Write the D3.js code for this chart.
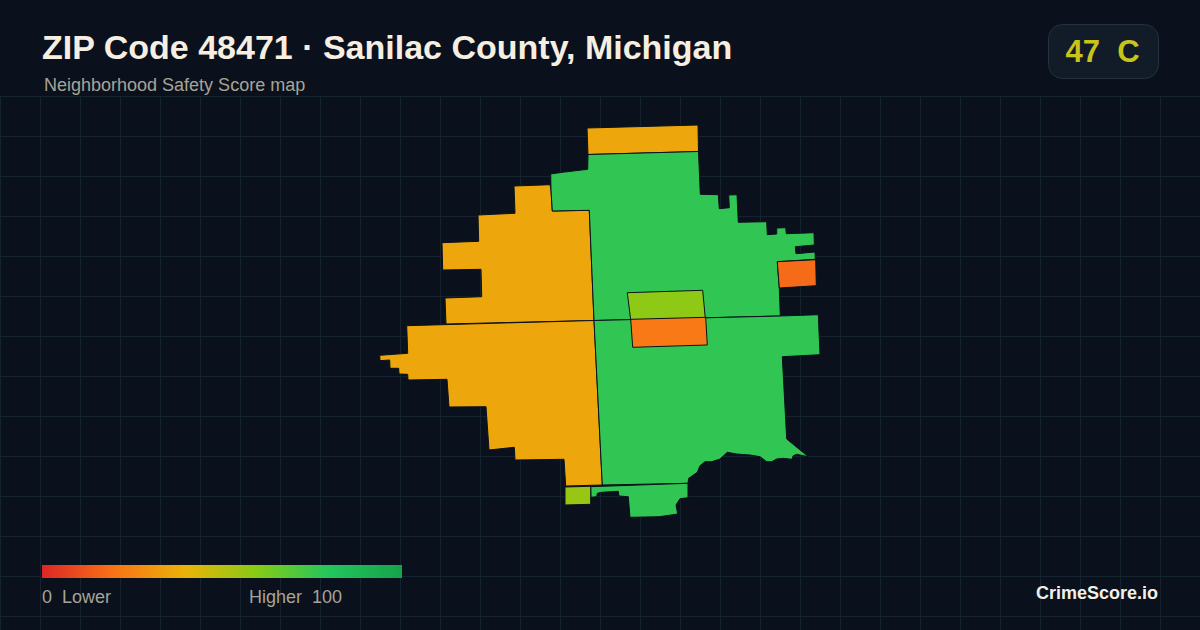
<!DOCTYPE html>
<html>
<head>
<meta charset="utf-8">
<title>ZIP Code 48471</title>
<script src="https://cdn.jsdelivr.net/npm/d3@7"></script>
<style>
html, body { margin: 0; padding: 0; background: #0a111c; }
svg { display: block; }
text { font-family: "Liberation Sans", Arial, sans-serif; }
</style>
</head>
<body>
<svg id="chart" width="1200" height="630"></svg>
<script>
const titleText = "ZIP Code 48471 · Sanilac County, Michigan";
const subtitleText = "Neighborhood Safety Score map";
const score = 47;
const grade = "C";
const brand = "CrimeScore.io";

// legend colour ramp, score -> colour
const rampStops = [0, 20, 40, 60, 80, 100];
const rampColors = ["#dc2626", "#f97316", "#eab308", "#84cc16", "#22c55e", "#16a34a"];

// tract scores, same order as the rings below
const tractScores = [36, 36, 36, 77, 77, 77, 56, 58, 22, 18];

// tract outlines in map units
const northStrip = [[207,8],[318,5],[318.5,31.5],[208,34.5]];
const westUpper = [[134,66],[170,64.7],[171,70],[172.3,91],[209.3,90.3],[214,200.5],[66,204],[65,178],[101.7,176.7],[101,149.3],[62.7,150],[62,122.7],[98.7,121.3],[98,95],[135,93.3]];
const westLower = [[26.7,205.7],[214,200.5],[222.3,365],[185.7,366],[184,339.3],[135,340],[134.3,327.3],[109,330],[106,286.7],[69,287],[67,259.3],[28,260],[27.7,254.3],[19,254],[18.7,248.3],[10,248.3],[9.7,240],[0,240.7],[-0.3,235.3],[27.7,233.3]];
const eastUpper = [[170.7,54],[182.3,52.3],[207.7,49.3],[208,34.5],[318.5,31.5],[320.3,74.3],[338.3,74.7],[339.3,88.7],[349.3,87.7],[348.7,75],[357,74.7],[358.3,102.3],[386.7,101.7],[387.3,114.7],[396.7,114],[396.7,108],[405.7,107.7],[406.3,113.7],[434,112.7],[434.3,125],[415.3,126.7],[416,133.7],[435,132],[435.3,139.3],[397.3,141.7],[399.3,168],[400.3,196],[214,200.5],[209.3,90.3],[172.3,91],[171,70]];
const eastLower = [[214,200.5],[400,196],[438.3,194.7],[440,234.7],[402.3,236.7],[406.7,319],[428.3,336.7],[416.7,334.3],[413.3,335.7],[411.7,339.3],[403.3,338.3],[396.7,339],[391.7,341.7],[386.7,341.7],[380,336.7],[370,335],[356.7,334],[347.3,332.3],[340,339],[331.7,341.7],[325,341.7],[320,345.7],[317.3,352.3],[308.7,358.3],[308,363.3],[222.3,365]];
const southTip = [[210.7,366.7],[308,363.3],[308,377.7],[300,378.7],[296,385],[297.7,394],[279.3,396.7],[250,397.3],[248.3,376.7],[239,376],[238.3,371.3],[221.7,372.3],[217.3,373.3],[216.7,376.7],[211,377.3]];
const southSmall = [[185,367],[210.7,366.3],[210.7,384.3],[185,385]];
const centerNorth = [[247.3,172.7],[322.7,170.3],[325.3,198.3],[250.7,200]];
const centerSouth = [[250.7,199.3],[325.7,197.3],[327.3,225],[252.7,227.3]];
const eastBlock = [[397.3,141.7],[435.7,139.7],[436.3,165.7],[399.3,168]];

const tractRings = [northStrip, westUpper, westLower, eastUpper, eastLower, southTip, southSmall, centerNorth, centerSouth, eastBlock];

const legendLow = "0  Lower";
const legendHigh = "Higher  100";

const svg = d3.select("#chart");
const width = 1200, height = 630;

// map units to screen
const xMap = d3.scaleLinear().domain([0, 440]).range([380, 820]);
const yMap = d3.scaleLinear().domain([0, 400]).range([120, 520]);
const scoreColor = d3.scaleLinear().domain(rampStops).range(rampColors).interpolate(d3.interpolateRgb);

svg.append("rect").attr("width", width).attr("height", height).attr("fill", "#0a111c");

// background grid
const grid = svg.append("g").attr("stroke", "#15232f").attr("stroke-width", 1);
grid.selectAll("line.v").data(d3.range(0, width, 40)).join("line")
    .attr("class", "v")
    .attr("x1", d => d + 0.5).attr("x2", d => d + 0.5)
    .attr("y1", 96).attr("y2", height);
grid.selectAll("line.h").data(d3.range(96, height, 40)).join("line")
    .attr("class", "h")
    .attr("x1", 0).attr("x2", width)
    .attr("y1", d => d + 0.5).attr("y2", d => d + 0.5);

// tracts
const ringPath = d3.line().x(d => xMap(d[0])).y(d => yMap(d[1])).curve(d3.curveLinearClosed);
svg.append("g").selectAll("path").data(tractRings).join("path")
    .attr("d", ringPath)
    .attr("fill", (d, i) => scoreColor(tractScores[i]))
    .attr("stroke", "#0a111c")
    .attr("stroke-width", 1)
    .attr("stroke-linejoin", "round");

// header
svg.append("text").text(titleText)
    .attr("x", 42).attr("y", 59)
    .attr("fill", "#f7eee2")
    .attr("font-size", 34).attr("font-weight", "bold");
svg.append("text").text(subtitleText)
    .attr("x", 44).attr("y", 91)
    .attr("fill", "#a8a396")
    .attr("font-size", 18);

// score badge
svg.append("rect")
    .attr("x", 1048.5).attr("y", 24.5).attr("width", 110).attr("height", 54).attr("rx", 14)
    .attr("fill", "#121c29").attr("stroke", "#243140");
svg.append("text").text(score + "  " + grade)
    .attr("x", 1102.5).attr("y", 62)
    .attr("text-anchor", "middle")
    .style("white-space", "pre")
    .attr("fill", "#c8c41a")
    .attr("font-size", 31).attr("font-weight", "bold");

// legend
const legendScale = d3.scaleLinear().domain([0, 100]).range([42, 402]);
const gradient = svg.append("defs").append("linearGradient").attr("id", "ramp");
gradient.selectAll("stop").data(rampStops).join("stop")
    .attr("offset", d => d + "%")
    .attr("stop-color", d => scoreColor(d));
svg.append("rect")
    .attr("x", legendScale(0)).attr("y", 565)
    .attr("width", legendScale(100) - legendScale(0)).attr("height", 13)
    .attr("fill", "url(#ramp)");
svg.append("text").text(legendLow)
    .attr("x", 42).attr("y", 603)
    .style("white-space", "pre")
    .attr("fill", "#a8a396").attr("font-size", 18);
svg.append("text").text(legendHigh)
    .attr("x", 249).attr("y", 603)
    .style("white-space", "pre")
    .attr("fill", "#a8a396").attr("font-size", 18);

svg.append("text").text(brand)
    .attr("x", 1158).attr("y", 599)
    .attr("text-anchor", "end")
    .attr("fill", "#f3efe8")
    .attr("font-size", 18).attr("font-weight", "bold");
</script>
</body>
</html>
